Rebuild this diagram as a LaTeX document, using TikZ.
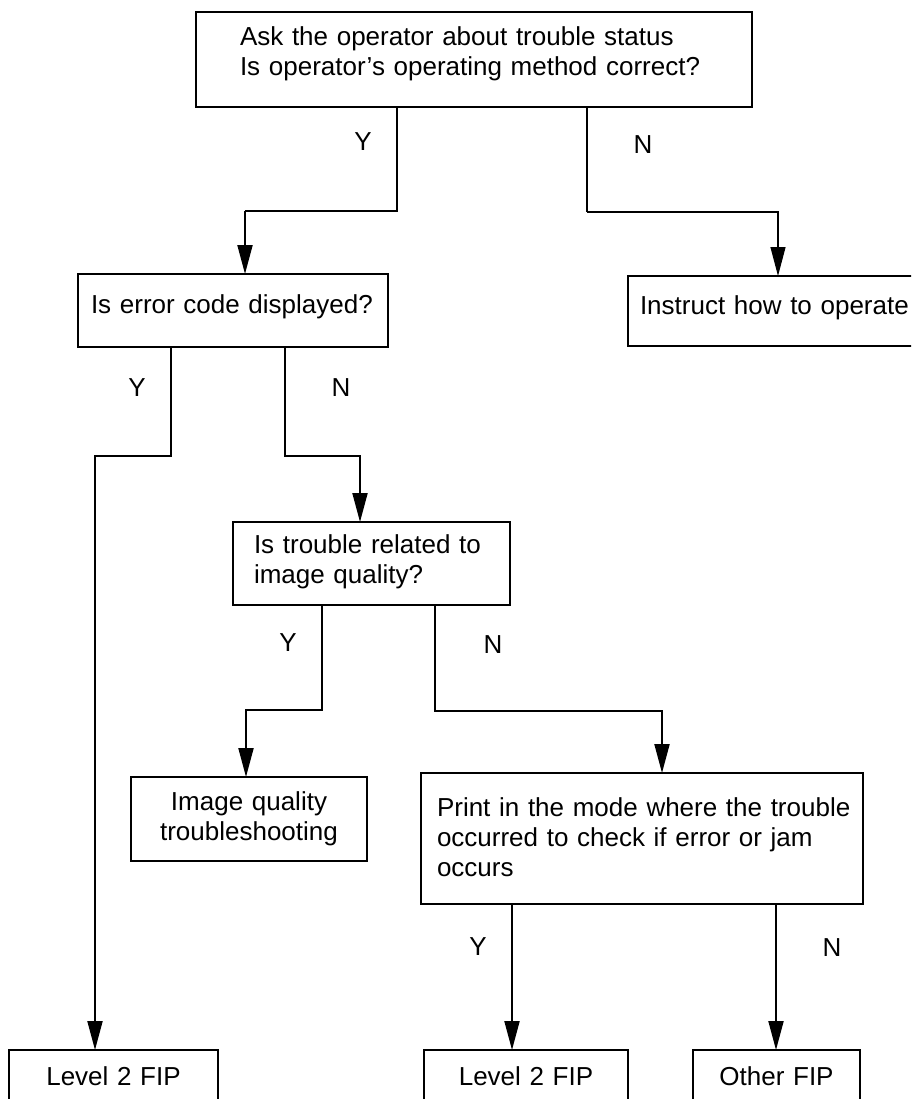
\documentclass[tikz,border=0pt]{standalone}
\usepackage{fontspec}
\setmainfont{Liberation Sans}
\usetikzlibrary{arrows.meta}
\newcommand\fsz{\fontsize{26}{30}\selectfont}
\begin{document}
\begin{tikzpicture}[x=1pt,y=-1pt,
  box/.style={draw, line width=2pt, outer sep=0pt, inner ysep=0pt, anchor=north west, font=\fsz},
  lbox/.style n args={4}{box, align=left, inner xsep=#2, text width=#1, text height=#3, text depth=#4},
  cbox/.style n args={3}{box, align=center, inner xsep=0pt, text width=#1, text height=#2, text depth=#3},
  conn/.style={line width=2pt},
  thinconn/.style={line width=1.2pt},
  tip/.style={-{Triangle[length=29pt,width=15pt]}},
  yn/.style={font=\fsz, inner sep=0pt}
]
\useasboundingbox (0,0) rectangle (911,1099);
\fill[white] (0,0) rectangle (911,1099);
\clip (0,0) rectangle (911,1099);

% boxes
\node[lbox={468pt}{44pt}{34pt}{61pt}] (T) at (196,12)
  {Ask the operator about trouble status\\Is operator’s operating method correct?};
\node[lbox={284pt}{13pt}{39pt}{34pt}] (E) at (78,274) {Is error code displayed?};
\node[lbox={278pt}{12pt}{38pt}{32pt}] (I) at (628,276) {Instruct how to operate};
\node[lbox={235pt}{21pt}{31pt}{52pt}] (Q) at (233,522) {Is trouble related to\\image quality?};
\node[cbox={236pt}{33pt}{51pt}] (IQ) at (131,777) {Image quality\\troubleshooting};
\node[lbox={410pt}{16pt}{43pt}{88pt}] (P) at (421,773)
  {\mbox{Print in the mode where the trouble}\\occurred to check if error or jam\\occurs};
\node[cbox={209pt}{35pt}{30pt}] (L1) at (9,1050) {Level 2 FIP};
\node[cbox={204pt}{35pt}{30pt}] (L2) at (424,1050) {Level 2 FIP};
\node[cbox={167pt}{35pt}{30pt}] (O) at (693,1050) {Other FIP};

% labels
\node[yn] (y1) at (363,142) {Y};
\node[yn] (n1) at (643,145) {N};
\node[yn] (y2) at (137,388) {Y};
\node[yn] (n2) at (341,388) {N};
\node[yn] (y3) at (288,643) {Y};
\node[yn] (n3) at (493,645) {N};
\node[yn] (y4) at (478,947) {Y};
\node[yn] (n4) at (832,948) {N};

% bend points
\coordinate (a1) at (397,211); \coordinate (b1) at (245,211);
\coordinate (a2) at (587,212); \coordinate (b2) at (778,212);
\coordinate (a3) at (171,456); \coordinate (b3) at (95,456);
\coordinate (a4) at (285,456); \coordinate (b4) at (360,456);
\coordinate (a5) at (322,710); \coordinate (b5) at (246,710);
\coordinate (a6) at (435,711); \coordinate (b6) at (662,711);
\coordinate (a7) at (512,980);
\coordinate (a8) at (776,980);

% connectors
\draw[thinconn] (T.south -| a1) -- (a1) -- (b1);
\draw[conn,tip] (b1) -- (E.north -| b1);
\draw[conn] (T.south -| a2) -- (a2);
\draw[thinconn,tip] (a2) -- (b2) -- (I.north -| b2);
\draw[conn,tip] (E.south -| a3) -- (a3) -- (b3) -- (L1.north -| b3);
\draw[conn,tip] (E.south -| a4) -- (a4) -- (b4) -- (Q.north -| b4);
\draw[conn,tip] (Q.south -| a5) -- (a5) -- (b5) -- (IQ.north -| b5);
\draw[conn,tip] (Q.south -| a6) -- (a6) -- (b6) -- (P.north -| b6);
\draw[conn,tip] (P.south -| a7) -- (L2.north -| a7);
\draw[conn,tip] (P.south -| a8) -- (O.north -| a8);
\end{tikzpicture}
\end{document}
